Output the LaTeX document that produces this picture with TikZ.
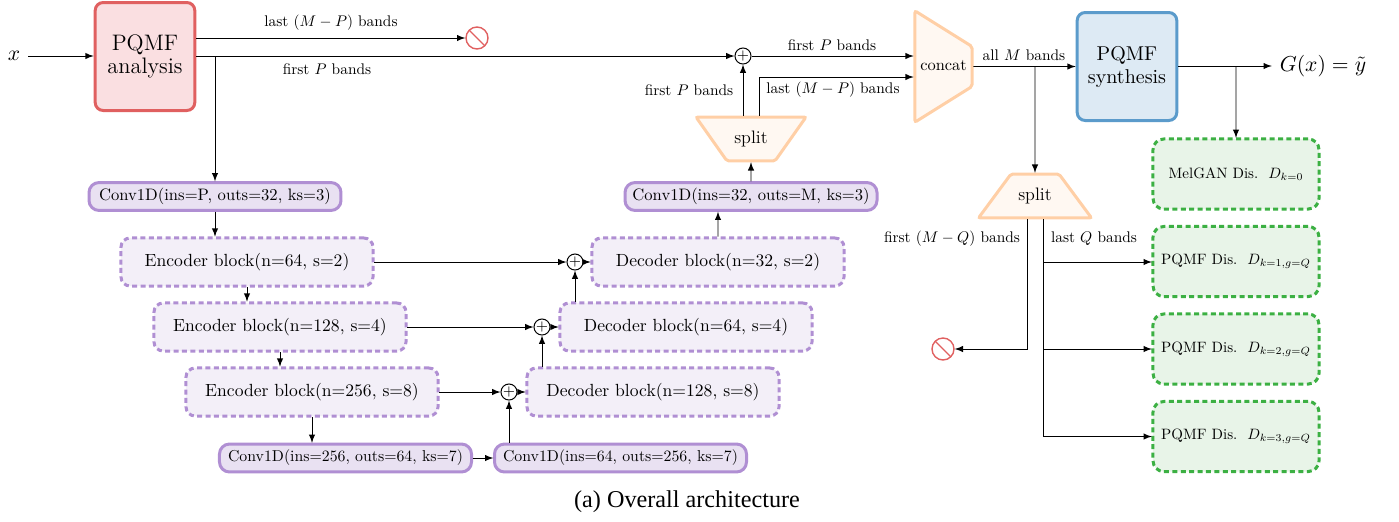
\documentclass[tikz,border=0pt]{standalone}
\usepackage{fontspec}
\newfontfamily\capfont{Liberation Serif}
\usetikzlibrary{
    arrows,
    calc,
    positioning,
    shapes.geometric,
    shapes.symbols
}
\definecolor{redline}{HTML}{E06060}
\definecolor{redfill}{HTML}{FADFE1}
\definecolor{blueline}{HTML}{5B9BCB}
\definecolor{bluefill}{HTML}{DDEAF4}
\definecolor{purpline}{HTML}{B08FD3}
\definecolor{purpfill}{HTML}{E9E1F2}
\definecolor{purpfade}{HTML}{F3EFF8}
\definecolor{orline}{HTML}{FFCFA6}
\definecolor{orfill}{HTML}{FFF8F2}
\definecolor{grline}{HTML}{3CB043}
\definecolor{grfill}{HTML}{E8F4E8}
\tikzset{
    pqmf/.style={draw, line width=1.5pt, rounded corners=4pt, minimum width=49.8pt, minimum height=54pt, align=center},
    conv/.style={draw=purpline, fill=purpfill, line width=1.5pt, scale=0.83, rounded corners=5pt, minimum width=151.8pt, minimum height=16.8pt, inner sep=0pt},
    convs/.style={draw=purpline, fill=purpfill, line width=1.5pt, scale=0.79, rounded corners=5pt, minimum width=159.5pt, minimum height=17.7pt, inner sep=0pt},
    block/.style={draw=purpline, fill=purpfade, line width=1.5pt, dash pattern=on 2.5pt off 1.7pt, scale=0.88, rounded corners=4.6pt, minimum width=143.2pt, minimum height=27.3pt, inner sep=0pt},
    disc/.style={draw=grline, fill=grfill, line width=1.5pt, dash pattern=on 2.5pt off 1.7pt, scale=0.75, rounded corners=5.4pt, minimum width=110.7pt, minimum height=46.7pt, inner sep=0pt},
    trap/.style={trapezium, draw=orline, fill=orfill, line width=1.5pt, scale=0.82, rounded corners=1pt, inner xsep=0pt, text height=7pt, text depth=2pt, align=center},
    nosign/.style={forbidden sign, draw=redline, line width=0.7pt, minimum size=11pt, inner sep=0pt, rotate=90},
    sum/.style={circle, draw, line width=0.5pt, minimum size=7.5pt, inner sep=0pt, font=\fontsize{7}{7}\selectfont},
    lab/.style={inner sep=0pt, scale=0.77}
}
\begin{document}
\begin{tikzpicture}[x=0.5pt, y=-0.5pt, >=latex, line width=0.45pt]
    \useasboundingbox (0, 0) rectangle (1399, 521);
    \node[inner sep=3.5pt, scale=1.08] (x) at (14, 56) {$x$};
    \node[pqmf, draw=redline, fill=redfill, font=\fontsize{11.2}{11.5}\selectfont] (ana) at (145, 56.5) {PQMF\\analysis};
    \node[pqmf, draw=blueline, fill=bluefill, font=\fontsize{10}{11.5}\selectfont] (syn) at (1127, 66.5) {PQMF\\synthesis};
    \node[inner sep=3.5pt, scale=1.08] (gx) at (1323, 66) {$G(x) = \tilde{y}$};
    \node[nosign] (no0) at (477, 38) {};
    \node[nosign] (no1) at (943, 349) {};
    \node[sum] (p0) at (743, 56) {$+$};
    \node[sum] (p1) at (575, 262) {$+$};
    \node[sum] (p2) at (542, 327) {$+$};
    \node[sum] (p3) at (509, 392) {$+$};
    \node[conv] (c0) at (215, 196.5) {Conv1D(ins=P, outs=32, ks=3)};
    \node[conv] (c1) at (751, 196.5) {Conv1D(ins=32, outs=M, ks=3)};
    \node[convs] (c2) at (345.5, 458) {Conv1D(ins=256, outs=64, ks=7)};
    \node[convs] (c3) at (620.5, 458) {Conv1D(ins=64, outs=256, ks=7)};
    \node[block] (e1) at (247, 262) {Encoder block(n=64, s=2)};
    \node[block] (e2) at (280, 327) {Encoder block(n=128, s=4)};
    \node[block] (e3) at (312, 392) {Encoder block(n=256, s=8)};
    \node[block] (d1) at (718, 262) {Decoder block(n=32, s=2)};
    \node[block] (d2) at (686, 327) {Decoder block(n=64, s=4)};
    \node[block] (d3) at (653, 392) {Decoder block(n=128, s=8)};
    \node[trap, shape border rotate=180, trapezium angle=54.8, text width=29.3pt, inner ysep=8.9pt, font=\fontsize{11}{13}\selectfont] (s0) at (751, 139) {split};
    \node[trap, trapezium angle=53.5, text width=29.3pt, inner ysep=8.9pt, font=\fontsize{11}{13}\selectfont] (s1) at (1035, 196) {split};
    \node[trap, shape border rotate=270, trapezium angle=58, text width=34.8pt, inner ysep=7.7pt] (cat) at (943.5, 66.5) {concat};
    \node[disc] (k0) at (1236, 174) {MelGAN Dis.~~$D_{k=0}$};
    \node[disc] (k1) at (1236, 261.5) {PQMF Dis.~~$D_{k=1,g=Q}$};
    \node[disc] (k2) at (1236, 349) {PQMF Dis.~~$D_{k=2,g=Q}$};
    \node[disc] (k3) at (1236, 436.5) {PQMF Dis.~~$D_{k=3,g=Q}$};
    \coordinate (b0) at (215, 56);
    \coordinate (b1) at (1035, 66);
    \coordinate (b2) at (1236, 66);
    \coordinate (t0) at (759, 77);
    \coordinate (t1) at (1027, 349);
    \coordinate (t2) at (1043, 262);
    \draw
    (x) edge[->] (x -| ana.west)
    (ana.east |- no0) edge[->] (no0)
    (p0 -| ana.east) edge[->] (p0)
    (b0) edge[->] (b0 |- c0.north)
    (b0 |- c0.south) edge[->] (b0 |- e1.north)
    (e1.south) edge[->] (e1.south |- e2.north)
    (e2.south) edge[->] (e2.south |- e3.north)
    (e3.south) edge[->] (e3.south |- c2.north)
    (c2) edge[->] (c3)
    (p3 |- c3.north) edge[->] (p3)
    (e3) edge[->] (p3)
    (p3) edge[->] (d3)
    (e2) edge[->] (p2)
    (p2) edge[->] (d2)
    (e1) edge[->] (p1)
    (p1) edge[->] (d1)
    (p2 |- d3.north) edge[->] (p2)
    (p1 |- d2.north) edge[->] (p1)
    (d1) edge[->] (d1 |- c1.south)
    (c1) edge[->] (s0)
    (p0 |- s0.north) edge[->] (p0)
    (p0) edge[->] (p0 -| cat.west)
    (syn.east |- b2) edge[->] (gx.west |- b2)
    (cat) edge[->] (syn)
    (b1) edge[->] (s1)
    (b2) edge[->] (k0)
    (t2) edge[->] (t2 -| k1.west)
    (t2 |- k2) edge[->] (k2)
    (t2 |- k3) edge[->] (k3);
    \draw[->] (t0 |- s0.north) |- (t0 -| cat.west);
    \draw[->] (t1 |- s1.south) |- (no1);
    \draw (t2 |- s1.south) -- (t2 |- k3);
    \node[lab] (l0) at (331, 23) {last $(M-P)$ bands};
    \node[lab] (l1) at (327, 69) {first $P$ bands};
    \node[lab] (l2) at (832, 45) {first $P$ bands};
    \node[lab] (l3) at (689, 90) {first $P$ bands};
    \node[lab] (l4) at (833, 90) {last $(M-P)$ bands};
    \node[lab] (l5) at (1024, 55) {all $M$ bands};
    \node[lab] (l6) at (952, 239) {first $(M-Q)$ bands};
    \node[lab] (l7) at (1094, 239) {last $Q$ bands};
    \node[inner sep=0pt, font=\capfont\fontsize{12.1}{14}\selectfont] (cap) at (687, 502) {(a) Overall architecture};
\end{tikzpicture}
\end{document}
